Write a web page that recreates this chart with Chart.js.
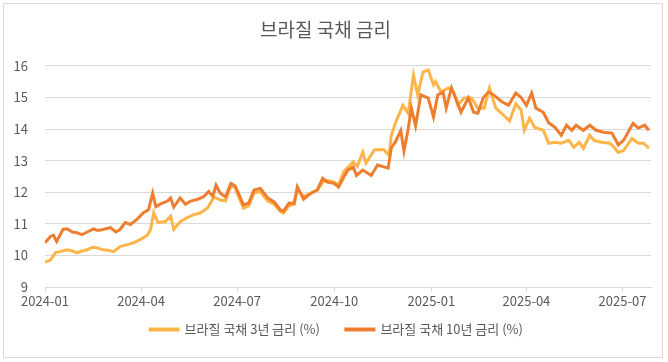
<!DOCTYPE html>
<html>
<head>
<meta charset="utf-8">
<script src="https://cdn.jsdelivr.net/npm/chart.js@4.4.0/dist/chart.umd.min.js"></script>
<style>
	html, body { margin: 0; padding: 0; background: #fff; }
	#wrap { position: relative; width: 668px; height: 362px; }
	#frame { position: absolute; left: 3px; top: 3px; width: 658px; height: 353px; border: 1px solid #d9d9d9; pointer-events: none; }
</style>
</head>
<body>
<div id="wrap">
	<canvas id="rateChart" width="668" height="362"></canvas>
	<div id="frame"></div>
</div>
<script>
// days since 2024-01-01
var tickDays = [0, 91, 182, 274, 366, 456, 547];
var tickLabels = ['2024-01', '2024-04', '2024-07', '2024-10', '2025-01', '2025-04', '2025-07'];
var yTicks = [9, 10, 11, 12, 13, 14, 15, 16];

var days3y = [0,5,10,14,21,26,30,35,40,45,49,55,60,65,71,78,84,90,97,100,103,107,114,119,122,128,135,141,147,154,160,166,171,176,180,182,188,193,198,204,211,217,223,226,231,236,239,245,252,258,263,268,274,278,283,292,296,301,304,312,321,326,328,332,339,344,349,353,358,363,368,370,375,382,387,391,397,404,410,416,421,427,434,440,446,451,454,459,464,472,477,483,489,496,501,506,510,516,520,527,535,539,543,548,556,562,567,572];
var rate3y = [9.79,9.85,10.09,10.12,10.18,10.14,10.08,10.14,10.18,10.26,10.24,10.18,10.16,10.12,10.28,10.34,10.4,10.5,10.64,10.82,11.34,11.04,11.07,11.24,10.82,11.07,11.2,11.29,11.34,11.5,11.85,11.75,11.72,12.2,12.15,11.97,11.49,11.57,11.97,12.02,11.72,11.62,11.39,11.34,11.57,11.62,12.07,11.87,11.97,12.07,12.32,12.37,12.32,12.22,12.65,12.96,12.82,13.27,12.92,13.34,13.34,13.17,13.8,14.2,14.75,14.5,15.7,15.08,15.8,15.87,15.4,15.5,15.17,15.3,15.17,14.75,14.98,14.98,14.66,14.66,15.3,14.66,14.45,14.25,14.8,14.6,13.96,14.34,14.05,13.96,13.55,13.58,13.55,13.64,13.42,13.58,13.39,13.8,13.64,13.58,13.55,13.42,13.26,13.32,13.7,13.55,13.55,13.39];

var days10y = [0,5,8,11,17,21,26,30,35,40,46,50,55,62,67,71,76,81,87,93,98,102,105,109,116,119,122,128,133,138,144,150,155,159,162,166,171,176,180,182,188,193,198,204,211,217,223,226,231,236,239,245,252,258,263,268,274,278,283,287,292,295,301,309,315,321,325,328,332,337,340,344,347,351,356,363,368,372,377,380,385,389,394,401,406,410,415,420,425,432,439,446,451,456,461,465,472,477,483,489,494,499,503,510,516,522,529,537,543,548,557,562,568,572];
var rate10y = [10.4,10.59,10.64,10.44,10.82,10.84,10.74,10.72,10.66,10.74,10.84,10.79,10.82,10.88,10.74,10.82,11.04,10.98,11.14,11.34,11.44,11.97,11.54,11.62,11.72,11.82,11.53,11.82,11.62,11.72,11.77,11.85,12.02,11.87,12.22,11.97,11.85,12.28,12.2,12.06,11.6,11.66,12.07,12.12,11.82,11.69,11.44,11.4,11.65,11.65,12.17,11.78,11.97,12.07,12.44,12.31,12.28,12.16,12.48,12.7,12.8,12.53,12.7,12.53,12.86,12.8,12.76,13.4,13.6,13.95,13.3,14.0,14.66,14.1,15.08,14.98,14.38,15.08,15.17,14.66,15.3,14.98,14.53,14.98,14.53,14.5,14.98,15.17,15.08,14.88,14.75,15.14,15.0,14.75,15.14,14.66,14.53,14.2,14.05,13.8,14.12,13.96,14.12,13.96,14.12,13.96,13.9,13.87,13.5,13.64,14.18,14.03,14.12,13.96];

function toPoints(days, values) {
	var pts = [];
	for (var i = 0; i < days.length; i++) {
		pts.push({ x: days[i], y: values[i] });
	}
	return pts;
}

var textColor = '#595959';
var gridColor = '#d9d9d9';
var fontFamily = "'Noto Sans CJK KR', 'Noto Sans', sans-serif";

Chart.defaults.font.family = fontFamily;
Chart.defaults.color = textColor;

// pull the legend up closer to the axis labels (keeps the wide gap between items) and nudge it right
var legendLift = {
	id: 'legendLift',
	afterLayout: function(chart) {
		var lg = chart.legend;
		if (!lg) return;
		var lift = lg.top - (chart.chartArea.bottom + 10);
		lg.top -= lift;
		lg.bottom -= lift;
		lg.left += 11;
		lg.right += 11;
	}
};

new Chart(document.getElementById('rateChart'), {
	type: 'line',
	data: {
		datasets: [{
			label: '브라질 국채 3년 금리 (%)',
			data: toPoints(days3y, rate3y),
			borderColor: '#fdb54a',
			backgroundColor: '#fdb54a',
			borderWidth: 3,
			pointRadius: 0,
			tension: 0,
			order: 1
		}, {
			label: '브라질 국채 10년 금리 (%)',
			data: toPoints(days10y, rate10y),
			borderColor: '#ee7d2f',
			backgroundColor: '#ee7d2f',
			borderWidth: 3,
			pointRadius: 0,
			tension: 0,
			order: 0
		}]
	},
	plugins: [legendLift],
	options: {
		responsive: false,
		animation: false,
		layout: { padding: { left: 0, right: 17, top: 0, bottom: 0 } },
		plugins: {
			title: {
				display: true,
				text: '브라질 국채 금리',
				color: textColor,
				font: { size: 19, weight: 'normal' },
				padding: { top: 18, bottom: 25 }
			},
			legend: {
				position: 'bottom',
				labels: {
					boxWidth: 28,
					boxHeight: 1,
					padding: 26,
					color: textColor,
					font: { size: 13 },
					sort: function(a, b) { return a.datasetIndex - b.datasetIndex; }
				}
			},
			tooltip: { enabled: false }
		},
		scales: {
			x: {
				type: 'linear',
				min: 0,
				max: 574,
				afterBuildTicks: function(axis) {
					axis.ticks = tickDays.map(function(d) { return { value: d }; });
				},
				ticks: {
					autoSkip: false,
					maxRotation: 0,
					padding: 1,
					font: { size: 13 },
					callback: function(value) {
						var i = tickDays.indexOf(value);
						return i >= 0 ? tickLabels[i] : '';
					}
				},
				afterFit: function(axis) { axis.height = 26; },
				grid: { drawOnChartArea: false, drawTicks: true, tickLength: 5, color: gridColor },
				border: { display: true, color: gridColor }
			},
			y: {
				min: 9,
				max: 16,
				afterBuildTicks: function(axis) {
					axis.ticks = yTicks.map(function(v) { return { value: v }; });
				},
				afterFit: function(axis) { axis.width = 45; },
				ticks: { padding: 17, font: { size: 13 } },
				grid: { color: gridColor, drawTicks: false },
				border: { display: false }
			}
		}
	}
});
</script>
</body>
</html>
